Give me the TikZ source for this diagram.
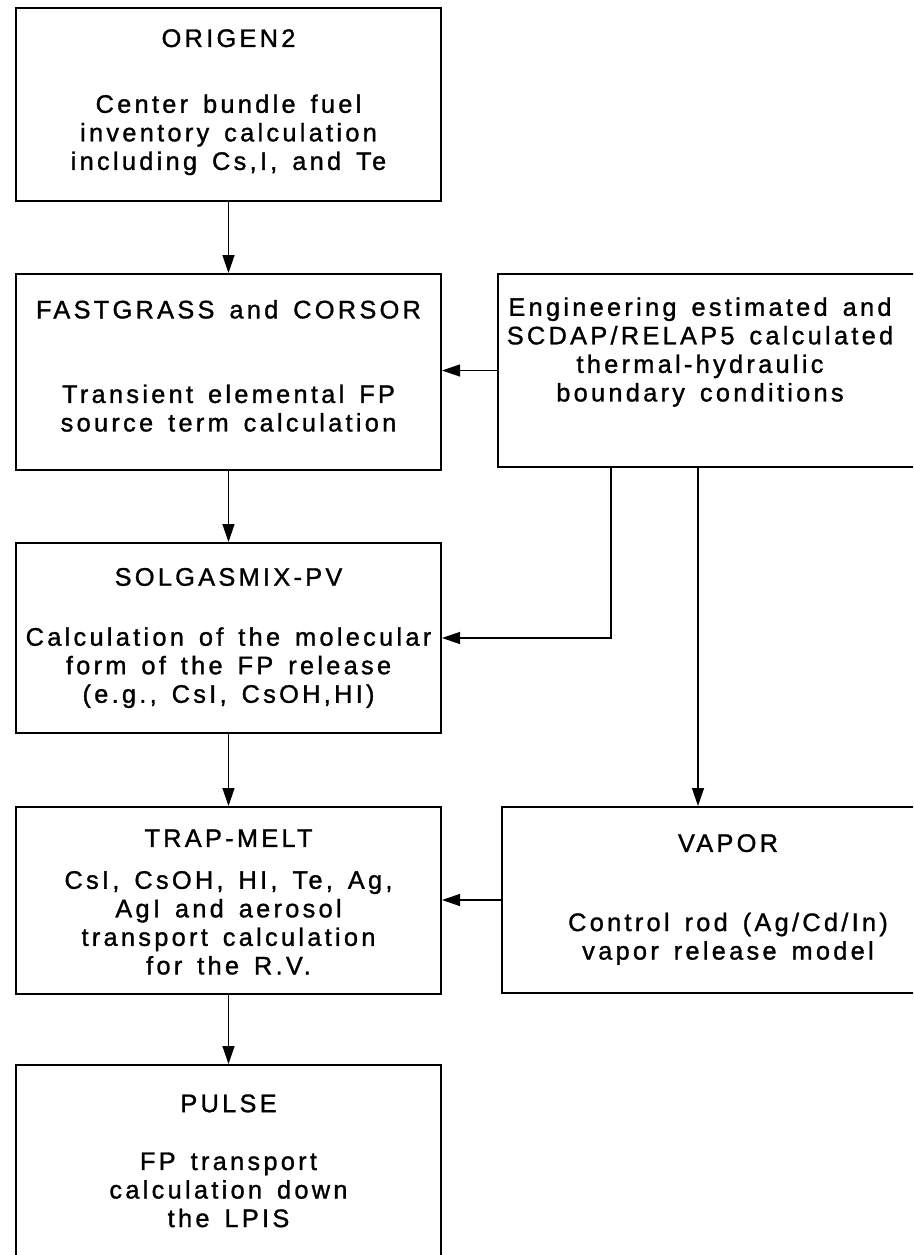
\documentclass[tikz,border=0pt]{standalone}
\usepackage{fontspec}
\setmainfont{Liberation Sans}[LetterSpace=13, WordSpace=1.45, FakeBold=1.2]
\usepackage{tikz}
\usetikzlibrary{arrows.meta, positioning}

\begin{document}
\begin{tikzpicture}[
    x=0.75pt, y=-0.75pt,
    every node/.style={font=\fontsize{19pt}{21.4pt}\selectfont},
    block/.style={rectangle, draw, line width=1.5pt, minimum width=318.75pt, align=center, inner sep=0pt},
    sideblock/.style={rectangle, draw, line width=1.5pt, minimum width=390pt, inner sep=0pt},
    arrow/.style={-{Triangle[length=13.5pt,width=9pt]}, line width=1pt}
]
\useasboundingbox (0,0) rectangle (913,1255);
\clip (0,0) rectangle (913,1255);

% main chain on the left
\node[block, minimum height=144.75pt, anchor=north west] (origen) at (15,7) {ORIGEN2\\[28pt]Center bundle fuel\\inventory calculation\\including Cs,I, and Te\\[-14pt]\mbox{}};
\node[block, minimum height=147pt, below=53.25pt of origen] (fast) {FASTGRASS and CORSOR\\[42pt]Transient elemental FP\\source term calculation\\[-12pt]\mbox{}};
\node[block, minimum height=142.5pt, below=53.25pt of fast] (solgas) {SOLGASMIX-PV\\[23.6pt]Calculation of the molecular\\form of the FP release\\(e.g., CsI, CsOH,HI)};
\node[block, minimum height=140.25pt, below=54pt of solgas] (trap) {\mbox{}\\[-6pt]TRAP-MELT\\[10pt]CsI, CsOH, HI, Te, Ag,\\AgI and aerosol\\transport calculation\\for the R.V.};
\node[block, minimum height=156pt, below=51.75pt of trap] (pulse) {PULSE\\[22pt]FP transport\\calculation down\\the LPIS\\[-9pt]\mbox{}};

% inputs on the right
\node[sideblock, minimum height=144.75pt, right=41.25pt of fast.north east, anchor=north west] (engest) {\makebox[390pt][l]{\makebox[303pt]{\begin{tabular}{@{}c@{}}Engineering estimated and\\SCDAP/RELAP5 calculated\\thermal-hydraulic\\boundary conditions\\[5pt]\mbox{}\end{tabular}}}};
\node[sideblock, minimum height=139.5pt, right=44.25pt of trap.north east, anchor=north west] (vapor) {\makebox[390pt][l]{\makebox[339pt]{\begin{tabular}{@{}c@{}}VAPOR\\[38pt]Control rod (Ag/Cd/In)\\vapor release model\end{tabular}}}};

\coordinate (tapsol) at ([xshift=85.5pt]engest.south west);
\coordinate (tapvap) at ([xshift=150.75pt]engest.south west);

\draw[arrow] (origen) -- (fast);
\draw[arrow] (fast) -- (solgas);
\draw[arrow] (solgas) -- (trap);
\draw[arrow] (trap) -- (pulse);

\draw[arrow] (engest.west) -- (engest.west -| fast.east);
\draw[arrow] (tapsol) |- (solgas.east);
\draw[arrow] (tapvap) -- (tapvap |- vapor.north);
\draw[arrow] (vapor.west) -- (vapor.west -| trap.east);

\end{tikzpicture}
\end{document}
